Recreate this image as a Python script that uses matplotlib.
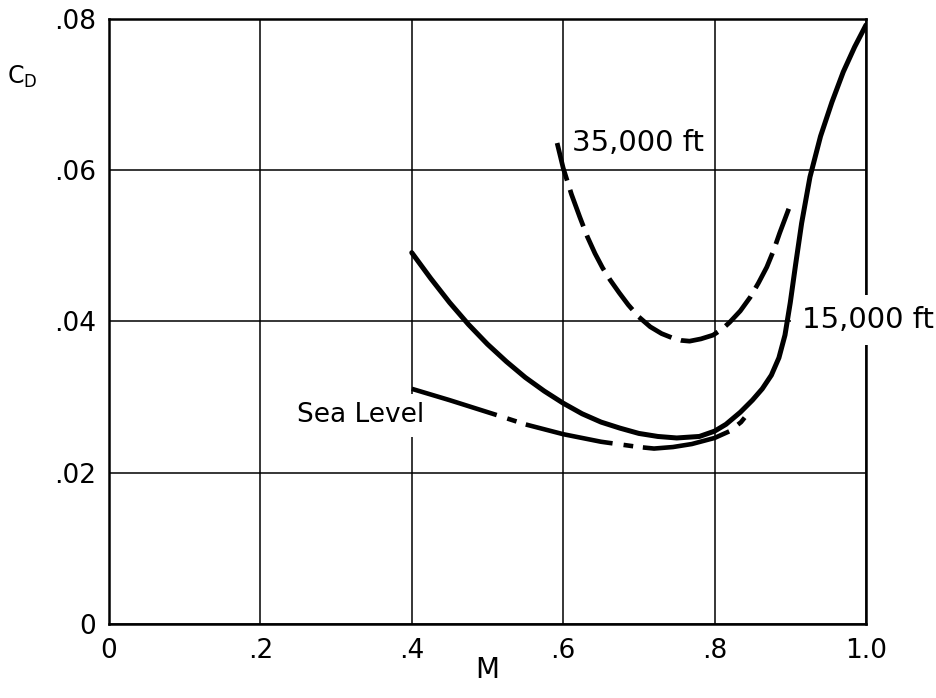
import matplotlib
matplotlib.use("Agg")
import matplotlib.pyplot as plt

plt.rcParams['font.family'] = ['DejaVu Sans']
plt.rcParams['mathtext.default'] = 'regular'
plt.rcParams['lines.scale_dashes'] = False

# ---- data ----
x_ticks = [0.0, 0.2, 0.4, 0.6, 0.8, 1.0]
x_ticklabels = ['0', '.2', '.4', '.6', '.8', '1.0']
y_ticks = [0.0, 0.02, 0.04, 0.06, 0.08]
y_ticklabels = ['0', '.02', '.04', '.06', '.08']

mach_15k = [0.40, 0.425, 0.45, 0.475, 0.50, 0.525, 0.55, 0.575, 0.60, 0.625, 0.65,
            0.675, 0.70, 0.725, 0.75, 0.78, 0.80, 0.815, 0.834, 0.85, 0.863, 0.875,
            0.885, 0.893, 0.900, 0.907, 0.915, 0.926, 0.94, 0.955, 0.97, 0.985, 1.00]
cd_15k = [0.0491, 0.0457, 0.0425, 0.0396, 0.0370, 0.0347, 0.0326, 0.0308, 0.0292,
          0.0278, 0.0267, 0.0259, 0.0252, 0.0248, 0.0246, 0.0248, 0.0255, 0.0264,
          0.0280, 0.0296, 0.0311, 0.0329, 0.0352, 0.0382, 0.0425, 0.0475, 0.0530,
          0.0591, 0.0645, 0.0690, 0.0730, 0.0763, 0.0792]

mach_sl = [0.40, 0.45, 0.51, 0.55, 0.60, 0.65, 0.70, 0.72, 0.745, 0.77, 0.80, 0.82,
           0.835, 0.843]
cd_sl = [0.0311, 0.0296, 0.0277, 0.0264, 0.0251, 0.0241, 0.0234, 0.0232, 0.0234,
         0.0238, 0.0246, 0.0255, 0.0267, 0.0277]

mach_35k = [0.592, 0.600, 0.611, 0.622, 0.632, 0.642, 0.652, 0.662, 0.674, 0.686,
            0.700, 0.715, 0.730, 0.745, 0.756, 0.767, 0.782, 0.798, 0.810, 0.820,
            0.834, 0.847, 0.858, 0.869, 0.878, 0.886, 0.898]
cd_35k = [0.0636, 0.0603, 0.0568, 0.0538, 0.0512, 0.0490, 0.0471, 0.0455, 0.0438,
          0.0422, 0.0406, 0.0393, 0.0384, 0.0378, 0.0375, 0.0374, 0.0377, 0.0382,
          0.0390, 0.0399, 0.0414, 0.0432, 0.0451, 0.0472, 0.0494, 0.0517, 0.0549]

# ---- figure ----
fig = plt.figure(figsize=(9.37, 6.98), dpi=100)
ax = fig.add_axes([0.1163, 0.106, 0.8079, 0.8668])
ax.set_xlim(0, 1.0)
ax.set_ylim(0, 0.08)

ax.set_xticks(x_ticks)
ax.set_xticklabels(x_ticklabels)
ax.set_yticks(y_ticks)
ax.set_yticklabels(y_ticklabels)
ax.tick_params(axis='both', length=0, labelsize=19, colors='black')
ax.tick_params(axis='x', pad=10)
ax.tick_params(axis='y', pad=9)

ax.grid(True, color='black', linewidth=1.1)
for s in ax.spines.values():
    s.set_linewidth(1.8)
    s.set_color('black')

ax.plot(mach_15k, cd_15k, color='black', linewidth=3.6, zorder=4,
        solid_capstyle='round', solid_joinstyle='round')
ax.plot(mach_sl, cd_sl, color='black', linewidth=3.3, zorder=4,
        linestyle=(0, (64, 8, 7, 7)), dash_joinstyle='round')
ax.plot(mach_35k, cd_35k, color='black', linewidth=3.4, zorder=4,
        linestyle=(0, (28, 7)), dash_joinstyle='round')

ax.text(0.612, 0.0636, '35,000 ft', fontsize=21, ha='left', va='center', zorder=5)
ax.text(0.9155, 0.0402, '15,000 ft', fontsize=21, ha='left', va='center', zorder=3,
        clip_on=False,
        bbox=dict(facecolor='white', edgecolor='none', pad=8))
ax.text(0.248, 0.0276, 'Sea Level', fontsize=19, ha='left', va='center', zorder=3,
        bbox=dict(facecolor='white', edgecolor='none', pad=6))

fig.text(0.0235, 0.89, '$C_D$', fontsize=17, ha='center', va='center')
fig.text(0.52, 0.04, 'M', fontsize=20, ha='center', va='center')

fig.savefig('out.png', dpi=100)
